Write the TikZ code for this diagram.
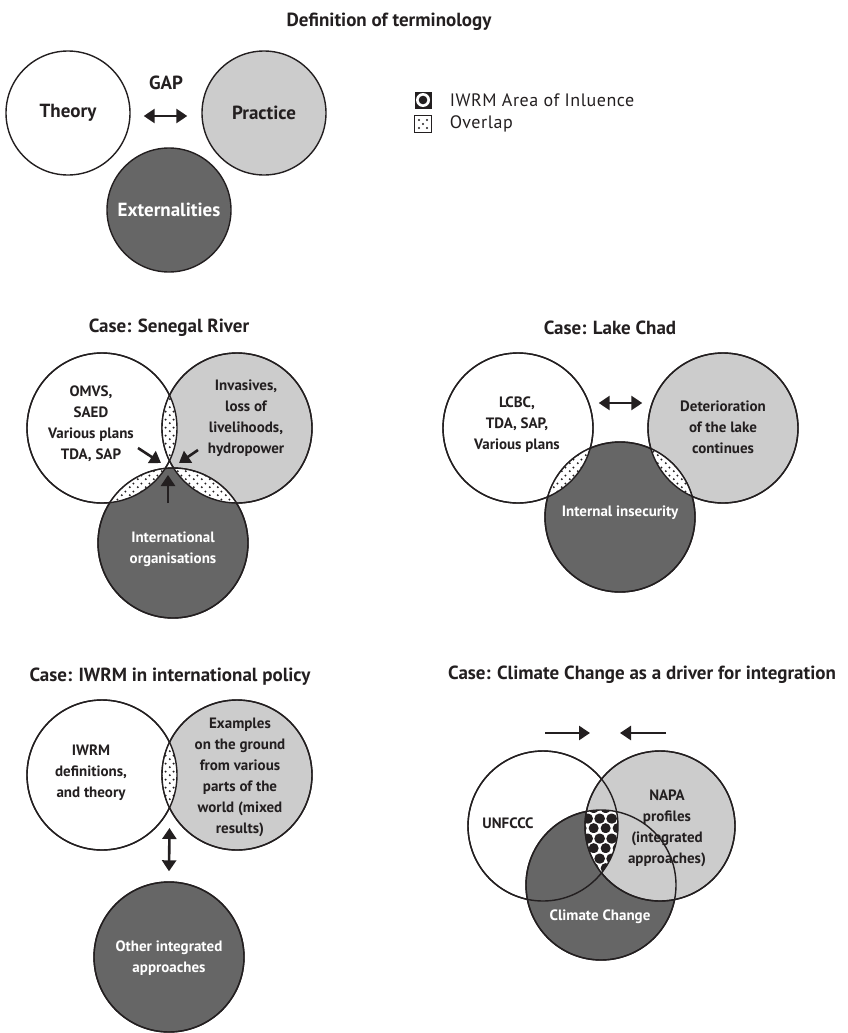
\documentclass[tikz,border=0pt]{standalone}
\usepackage{fontspec}
\setmainfont{PT Sans}
\usepackage{tikz}
\usetikzlibrary{arrows.meta, patterns.meta, positioning}

\definecolor{lightfill}{gray}{0.80}
\definecolor{darkfill}{gray}{0.40}
\definecolor{ink}{HTML}{231F20}

\tikzdeclarepattern{name=overlapdots, type=uncolored,
    bounding box={(0pt,0pt) and (8pt,8pt)}, tile size={(8pt,8pt)},
    code={\fill (2pt,2pt) circle (1.2pt); \fill (6pt,6pt) circle (1.2pt);}}
\tikzdeclarepattern{name=iwrmdots, type=uncolored,
    bounding box={(0pt,0pt) and (12pt,20pt)}, tile size={(12pt,20pt)},
    code={\fill (6pt,5pt) circle (5.3pt); \fill (0pt,15pt) circle (5.3pt);
          \fill (12pt,15pt) circle (5.3pt);}}

% dotted lens where two circles overlap
\newcommand{\overlapfill}[2]{%
    \begin{scope}
        \clip (#1.center) circle (75pt);
        \fill[white] (#2.center) circle (75pt);
        \fill[pattern=overlapdots, pattern color=ink] (#2.center) circle (75pt);
    \end{scope}}

\begin{document}
\begin{tikzpicture} [
    x = 1pt, y = -1pt,
    big/.style = {circle, draw=ink, line width=1.4pt, minimum size=150pt, inner sep=0pt},
    small/.style = {circle, draw=ink, line width=1.4pt, minimum size=124pt, inner sep=0pt,
        font=\bfseries\fontsize{19}{21}\selectfont, text=ink},
    rim/.style = {draw=ink, line width=1.4pt},
    head/.style = {font=\bfseries\fontsize{19}{21}\selectfont, text=ink},
    txt/.style = {font=\bfseries\fontsize{15}{21}\selectfont, align=center, text=ink, inner sep=0pt},
    wtxt/.style = {txt, text=white},
    keybox/.style = {rectangle, minimum size=17pt, inner sep=0pt},
    keytxt/.style = {font=\fontsize{18}{20}\selectfont\addfontfeature{LetterSpace=3}, text=ink, inner sep=0pt},
    arrow/.style = {draw=ink, line width=2.6pt, -{Triangle[length=11pt, width=14pt]}},
    dbl/.style = {draw=ink, line width=2.6pt,
        {Triangle[length=11pt, width=14pt]}-{Triangle[length=11pt, width=14pt]}}
    ]
    \useasboundingbox (0,0) rectangle (847,1033);

    % definition of terminology
    \node[head] (title-def) at (389,22) {Definition of terminology};
    \node[small, fill=white] (theory) at (68,113) {Theory};
    \node[small, fill=lightfill] (practice) at (264,113) {Practice};
    \node[small, fill=darkfill, text=white] (extern) at (169,210) {Externalities};
    \node[head] (gap) at (166,83) {GAP};
    \draw[dbl] ([xshift=13pt, yshift=-3pt]theory.east) -- ([xshift=-14pt, yshift=-3pt]practice.west);

    \node[keybox, fill=ink] (key-iwrm) at (423,100) {};
    \fill[white] (key-iwrm.center) circle (7pt);
    \fill[ink] (key-iwrm.center) circle (4.3pt);
    \node[keybox, draw=ink, thin, fill=white] (key-overlap) at (423,124) {};
    \foreach \dx/\dy in {-4/-4, 4/-4, 0/0, -4/4, 4/4}
        \fill[ink] ([shift={(\dx,\dy)}]key-overlap.center) circle (1.2pt);
    \node[keytxt, right=18pt of key-iwrm] (key-iwrm-txt) {IWRM Area of Inluence};
    \node[keytxt, right=18pt of key-overlap] (key-overlap-txt) {Overlap};

    % case: senegal river
    \node[head] (title-sen) at (169,328) {Case: Senegal River};
    \node[big, fill=white] (omvs) at (102,428) {};
    \node[big, fill=lightfill] (invas) at (237,428) {};
    \node[big, fill=darkfill] (intorg) at (173,543) {};
    \overlapfill{omvs}{invas}
    \overlapfill{omvs}{intorg}
    \overlapfill{invas}{intorg}
    \foreach \c in {omvs, invas, intorg}
        \draw[rim] (\c.center) circle (75pt);
    \node[txt] (omvs-txt) at (91,424) {OMVS,\\SAED\\Various plans\\TDA, SAP};
    \node[txt] (invas-txt) at (246,418) {Invasives,\\loss of\\livelihoods,\\hydropower};
    \node[wtxt] (intorg-txt) at (173,549) {International\\organisations};
    \coordinate (sen-l) at (138,448);
    \coordinate (sen-r) at (198,450);
    \coordinate (sen-b) at (168,503);
    \draw[arrow] (sen-l) -- (161,463);
    \draw[arrow] (sen-r) -- (179,463);
    \draw[arrow] (sen-b) -- (168,475);

    % case: lake chad
    \node[head] (title-chad) at (610,328) {Case: Lake Chad};
    \node[big, fill=white] (lcbc) at (518,428) {};
    \node[big, fill=lightfill] (deter) at (723,428) {};
    \node[big, fill=darkfill] (insec) at (620,517) {};
    \overlapfill{lcbc}{insec}
    \overlapfill{deter}{insec}
    \foreach \c in {lcbc, deter, insec}
        \draw[rim] (\c.center) circle (75pt);
    \node[txt] (lcbc-txt) at (517,425) {LCBC,\\TDA, SAP,\\Various plans};
    \node[txt] (deter-txt) at (723,427) {Deterioration\\of the lake\\continues};
    \node[wtxt] (insec-txt) at (620,513) {Internal insecurity};
    \draw[dbl] ([xshift=5pt, yshift=25pt]lcbc.east) -- ([xshift=-5pt, yshift=25pt]deter.west);

    % case: iwrm in international policy
    \node[head] (title-iwrm) at (170,677) {Case: IWRM in international policy};
    \node[big, fill=white] (iwrm) at (102,775) {};
    \node[big, fill=lightfill] (exam) at (237,775) {};
    \node[big, fill=darkfill] (other) at (169,957) {};
    \overlapfill{iwrm}{exam}
    \foreach \c in {iwrm, exam, other}
        \draw[rim] (\c.center) circle (75pt);
    \node[txt] (iwrm-txt) at (91,773) {IWRM\\definitions,\\and theory};
    \node[txt] (exam-txt) at (240,777) {Examples\\on the ground\\from various\\parts of the\\world (mixed\\results)};
    \node[wtxt] (other-txt) at (169,958) {Other integrated\\approaches};
    \coordinate (iwrm-meet) at (169.5,808);
    \draw[dbl] ([yshift=-20pt]iwrm-meet) -- ([yshift=10pt]other.north);

    % case: climate change
    \node[head] (title-cc) at (642,675) {Case: Climate Change as a driver for integration};
    \node[big, fill=white] (unfccc) at (543,826) {};
    \node[big, fill=darkfill] (climate) at (601,885) {};
    \node[big, fill=lightfill] (napa) at (660,826) {};
    \begin{scope}
        \clip (unfccc.center) circle (75pt);
        \clip (napa.center) circle (75pt);
        \fill[white] (climate.center) circle (75pt);
        \fill[pattern=iwrmdots, pattern color=ink] (climate.center) circle (75pt);
    \end{scope}
    \foreach \c in {unfccc, climate, napa}
        \draw[rim] (\c.center) circle (75pt);
    \node[txt] (unfccc-txt) at (508,823) {UNFCCC};
    \node[txt] (napa-txt) at (667,828) {NAPA\\profiles\\(integrated\\approaches)};
    \node[wtxt] (climate-txt) at (600,917) {Climate Change};
    \coordinate (push-l) at (545,733);
    \coordinate (push-r) at (666,733);
    \draw[arrow] (push-l) -- ++(45,0);
    \draw[arrow] (push-r) -- ++(-46,0);
\end{tikzpicture}
\end{document}
